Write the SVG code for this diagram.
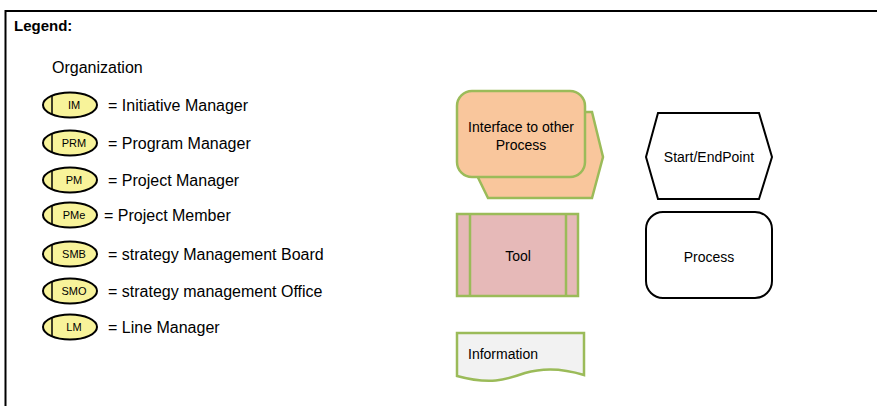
<svg xmlns="http://www.w3.org/2000/svg" width="877" height="406" viewBox="0 0 877 406">
<style>
text{font-family:"Liberation Sans",Arial,sans-serif;fill:#000}
.lbl{font-size:16px}
.abbr{font-size:11px;text-anchor:middle}
.g{stroke:#9BBB59;stroke-width:2.5}
.blk{fill:#fff;stroke:#000;stroke-width:2}
.c{font-size:14px;text-anchor:middle}
</style>
<defs>
<g id="role">
<ellipse cx="0" cy="0" rx="27" ry="12.5" fill="#F8F39A" stroke="#000" stroke-width="2"/>
<line x1="-18" y1="-9.5" x2="-18" y2="9.5" stroke="#000" stroke-width="1.5"/>
</g>
</defs>
<rect x="0" y="0" width="877" height="406" fill="#fff"/>
<g id="frame">
<path d="M5.5 406 V11 H877" fill="none" stroke="#000" stroke-width="2"/>
<text x="14" y="31" style="font-size:15px;font-weight:bold">Legend:</text>
<text x="52" y="73" class="lbl">Organization</text>
</g>
<g id="role-im"><use href="#role" x="70" y="105"/><text x="74" y="109" class="abbr">IM</text><text x="108" y="111" class="lbl">= Initiative Manager</text></g>
<g id="role-prm"><use href="#role" x="70" y="143"/><text x="74" y="147" class="abbr">PRM</text><text x="108" y="149" class="lbl">= Program Manager</text></g>
<g id="role-pm"><use href="#role" x="70" y="180"/><text x="74" y="184" class="abbr">PM</text><text x="108" y="186" class="lbl">= Project Manager</text></g>
<g id="role-pme"><use href="#role" x="70" y="215"/><text x="74" y="219" class="abbr">PMe</text><text x="104" y="221" class="lbl">= Project Member</text></g>
<g id="role-smb"><use href="#role" x="70" y="254"/><text x="74" y="258" class="abbr">SMB</text><text x="108" y="260" class="lbl">= strategy Management Board</text></g>
<g id="role-smo"><use href="#role" x="70" y="291"/><text x="74" y="295" class="abbr">SMO</text><text x="108" y="297" class="lbl">= strategy management Office</text></g>
<g id="role-lm"><use href="#role" x="70" y="327"/><text x="74" y="331" class="abbr">LM</text><text x="108" y="333" class="lbl">= Line Manager</text></g>
<g id="interface">
<polygon points="470,112 592,112 603,157 592,198 488,198 468,157" fill="#F9C69C" class="g"/>
<rect x="457" y="91" width="128" height="86" rx="15" fill="#F9C69C" class="g"/>
<text x="521" y="132" class="c">Interface to other</text>
<text x="521" y="150" class="c">Process</text>
</g>
<g id="tool">
<rect x="457" y="214" width="121" height="82" fill="#E6B9B8" class="g"/>
<line x1="470" y1="214" x2="470" y2="296" class="g"/>
<line x1="566" y1="214" x2="566" y2="296" class="g"/>
<text x="518" y="261" class="c">Tool</text>
</g>
<g id="information">
<path d="M457 333 H584 V375 C565 369 545 367 525 373 C505 380 490 385 457 376 Z" fill="#F2F2F2" class="g"/>
<text x="468" y="359" style="font-size:14px">Information</text>
</g>
<g id="startend">
<polygon points="658,113 759,113 772,157 759,199 658,199 646,157" class="blk"/>
<text x="709" y="162" class="c">Start/EndPoint</text>
</g>
<g id="process">
<rect x="646" y="212" width="126" height="86" rx="17" class="blk"/>
<text x="709" y="262" class="c">Process</text>
</g>
<g id="connectors"/>
</svg>
